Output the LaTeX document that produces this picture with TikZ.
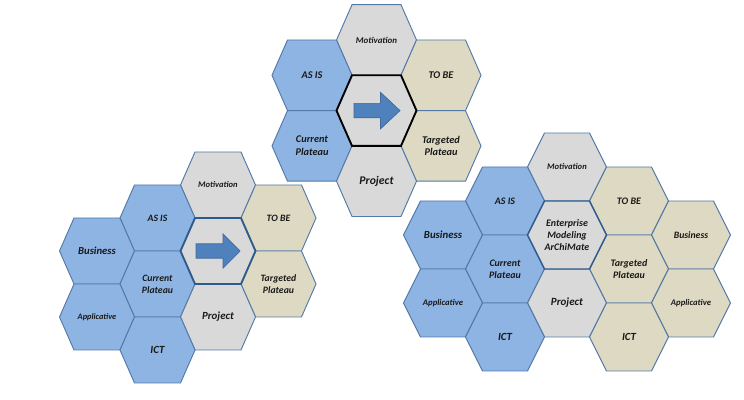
\documentclass[tikz,border=0pt]{standalone}
\usepackage{fontspec}
\setmainfont{Carlito}

\definecolor{asisblue}{HTML}{8EB4E3}
\definecolor{tobetan}{HTML}{DDD9C3}
\definecolor{midgrey}{HTML}{D9D9D9}
\definecolor{hexline}{HTML}{5279A8}
\definecolor{arrowblue}{HTML}{4F81BD}
\definecolor{arrowline}{HTML}{41699A}
\definecolor{coreblue}{HTML}{2F5B8C}

\tikzstyle{asiscell}=[draw=hexline, line width=0.8pt, fill=asisblue]
\tikzstyle{tobecell}=[draw=hexline, line width=0.8pt, fill=tobetan]
\tikzstyle{midcell}=[draw=hexline, line width=0.8pt, fill=midgrey]
\tikzstyle{corecell}=[line width=1.6pt, fill=midgrey]
\tikzstyle{hexlabel}=[align=center, inner sep=0pt, text=black!90]
\tikzstyle{bigarrow}=[draw=arrowline, line width=0.6pt, fill=arrowblue]

% font size of a label, with its line spacing
\newcommand{\fs}[1]{\fontsize{#1}{\fpeval{1.22*#1}}\selectfont\bfseries\itshape}
% one hexagon: name, centre, style, font size, text
\newcommand{\hexcell}[5]{%
  \draw[#3, shift={(#2)}] (-\hexa,0) -- (-\hext,-\hexb) -- (\hext,-\hexb)
    -- (\hexa,0) -- (\hext,\hexb) -- (-\hext,\hexb) -- cycle;
  \node[hexlabel, font=\fs{#4}] (#1) at (#2) {#5};}

\begin{document}
\begin{tikzpicture}[x=0.03cm, y=-0.03cm]
\useasboundingbox (0,0) rectangle (744,400);

% top cluster
\def\hexa{40}\def\hext{24.5}\def\hexb{35.3}
\hexcell{tmot}{376.5,40}{midcell}{7.6}{Motivation}
\hexcell{tasis}{312,75.3}{asiscell}{8.8}{AS IS}
\hexcell{ttobe}{441,75.3}{tobecell}{8.8}{TO BE}
\hexcell{tcur}{312,145.9}{asiscell}{8.8}{Current\\Plateau}
\hexcell{ttar}{441,145.9}{tobecell}{8.8}{Targeted\\Plateau}
\hexcell{tproj}{376.5,181.2}{midcell}{10}{Project}
\hexcell{tcore}{376.5,110.6}{corecell, draw=black}{8.8}{}
\draw[bigarrow, shift={(tcore)}] (-22.5,-7.2) -- (4,-7.2) -- (4,-18.3) -- (23.5,0)
  -- (4,18.3) -- (4,7.2) -- (-22.5,7.2) -- cycle;

% left cluster
\def\hexa{37.5}\def\hext{23}\def\hexb{33}
\hexcell{lmot}{218,185}{midcell}{7.3}{Motivation}
\hexcell{lasis}{157.5,218}{asiscell}{8.3}{AS IS}
\hexcell{ltobe}{278.5,218}{tobecell}{8.3}{TO BE}
\hexcell{lbus}{97,251}{asiscell}{9.1}{Business}
\hexcell{lcur}{157.5,284}{asiscell}{8.3}{Current\\Plateau}
\hexcell{ltar}{278.5,284}{tobecell}{8.3}{Targeted\\Plateau}
\hexcell{lapp}{97,317}{asiscell}{7.1}{Applicative}
\hexcell{lproj}{218,317}{midcell}{9.3}{Project}
\hexcell{lict}{157.5,350}{asiscell}{9.3}{ICT}
\hexcell{lcore}{218,251}{corecell, draw=coreblue}{8.3}{}
\draw[bigarrow, shift={(lcore)}] (-22,-7.2) -- (5,-7.2) -- (5,-17.2) -- (22,0)
  -- (5,17.2) -- (5,7.2) -- (-22,7.2) -- cycle;

% right cluster
\def\hexa{39.5}\def\hext{22.5}\def\hexb{34}
\hexcell{rmot}{567,167}{midcell}{7.3}{Motivation}
\hexcell{rasis}{505,201}{asiscell}{8.5}{AS IS}
\hexcell{rtobe}{629,201}{tobecell}{8.5}{TO BE}
\hexcell{rbusl}{443,235}{asiscell}{9.2}{Business}
\hexcell{rbusr}{691,235}{tobecell}{8.3}{Business}
\hexcell{rcur}{505,269}{asiscell}{8.5}{Current\\Plateau}
\hexcell{rtar}{629,269}{tobecell}{8.5}{Targeted\\Plateau}
\hexcell{rappl}{443,303}{asiscell}{7.4}{Applicative}
\hexcell{rproj}{567,303}{midcell}{9.4}{Project}
\hexcell{rappr}{691,303}{tobecell}{7.4}{Applicative}
\hexcell{rictl}{505,337}{asiscell}{9.3}{ICT}
\hexcell{rictr}{629,337}{tobecell}{9.3}{ICT}
\hexcell{rcore}{567,235}{corecell, line width=1.2pt, draw=coreblue}{8.5}{Enterprise\\Modeling\\ArChiMate}
\end{tikzpicture}
\end{document}
